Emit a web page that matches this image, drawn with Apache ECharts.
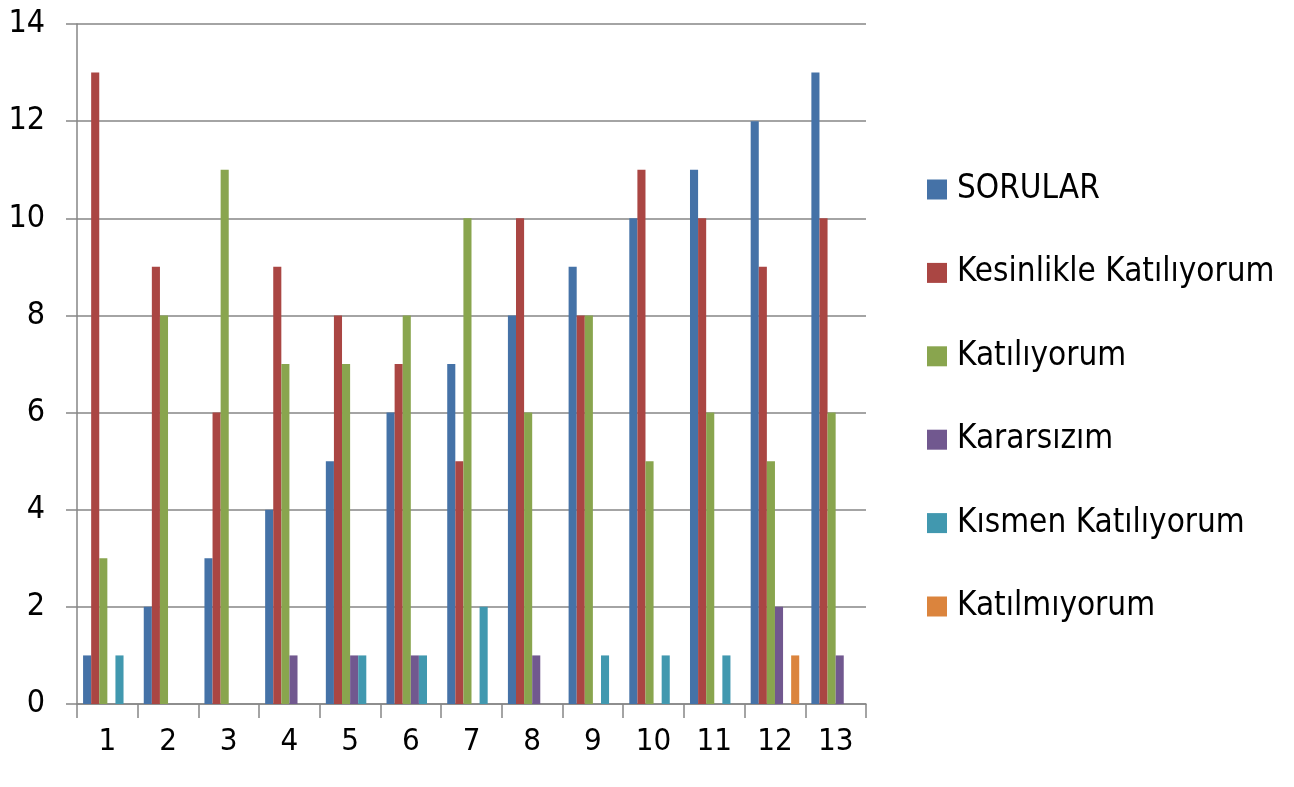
<!DOCTYPE html>
<html><head><meta charset="utf-8">
<script src="https://cdn.jsdelivr.net/npm/echarts@6/dist/echarts.min.js"></script>
<style>html,body{margin:0;padding:0;background:#fff}#c{width:1294px;height:787px}</style>
</head><body><div id="c"></div>
<script>
const categories = ['1','2','3','4','5','6','7','8','9','10','11','12','13'];
const seriesNames = ['SORULAR','Kesinlikle Katılıyorum','Katılıyorum','Kararsızım','Kısmen Katılıyorum','Katılmıyorum'];
const sorular      = [1,2,3,4,5,6,7,8,9,10,11,12,13];
const kesinlikle   = [13,9,6,9,8,7,5,10,8,11,10,9,10];
const katiliyorum  = [3,8,11,7,7,8,10,6,8,5,6,5,6];
const kararsizim   = [0,0,0,1,1,1,0,1,0,0,0,2,1];
const kismen       = [1,0,0,0,1,1,2,0,1,1,1,0,0];
const katilmiyorum = [0,0,0,0,0,0,0,0,0,0,0,1,0];
const yTicks = [0,2,4,6,8,10,12,14];
const colors = ['#4572A7','#AA4643','#89A54E','#71588F','#4198AF','#DB843D'];
const values = [sorular,kesinlikle,katiliyorum,kararsizim,kismen,katilmiyorum];
const FONT = '"Liberation Sans Narrow","DejaVu Sans Condensed","Open Sans",sans-serif';

const chart = echarts.init(document.getElementById('c'), null, {renderer:'canvas'});
chart.setOption({
  animation:false,
  color: colors,
  textStyle:{fontFamily:FONT},
  grid:{left:77,right:428,top:24,bottom:83,containLabel:false},
  legend:{
    orient:'vertical', left:922, top:168,
    itemWidth:20, itemHeight:20, itemGap:50.4,
    icon:'rect',
    textStyle:{fontFamily:FONT, fontSize:33, lineHeight:30, color:'#000', padding:[0,0,0,5]},
    data: seriesNames
  },
  xAxis:{
    type:'category', data:categories,
    axisLine:{show:true,lineStyle:{color:'#868686',width:1.5}},
    axisTick:{show:true,length:14,alignWithLabel:false,lineStyle:{color:'#868686',width:1.5}},
    axisLabel:{fontFamily:FONT,fontSize:31,color:'#000',margin:22}
  },
  yAxis:{
    type:'value', min:0, max:14, interval:2,
    axisLine:{show:true,lineStyle:{color:'#868686',width:1.5}},
    axisTick:{show:true,length:11,lineStyle:{color:'#868686',width:1.5}},
    splitLine:{show:true,lineStyle:{color:'#868686',width:1.5}},
    axisLabel:{fontFamily:FONT,fontSize:32,color:'#000',margin:32,
      formatter:v=> yTicks.includes(v)? String(v):''}
  },
  series: seriesNames.map((n,i)=>({
    name:n, type:'bar', data:values[i],
    barGap:'0%', barCategoryGap:'20%',
    itemStyle:{color:colors[i]}
  }))
});
</script></body></html>
